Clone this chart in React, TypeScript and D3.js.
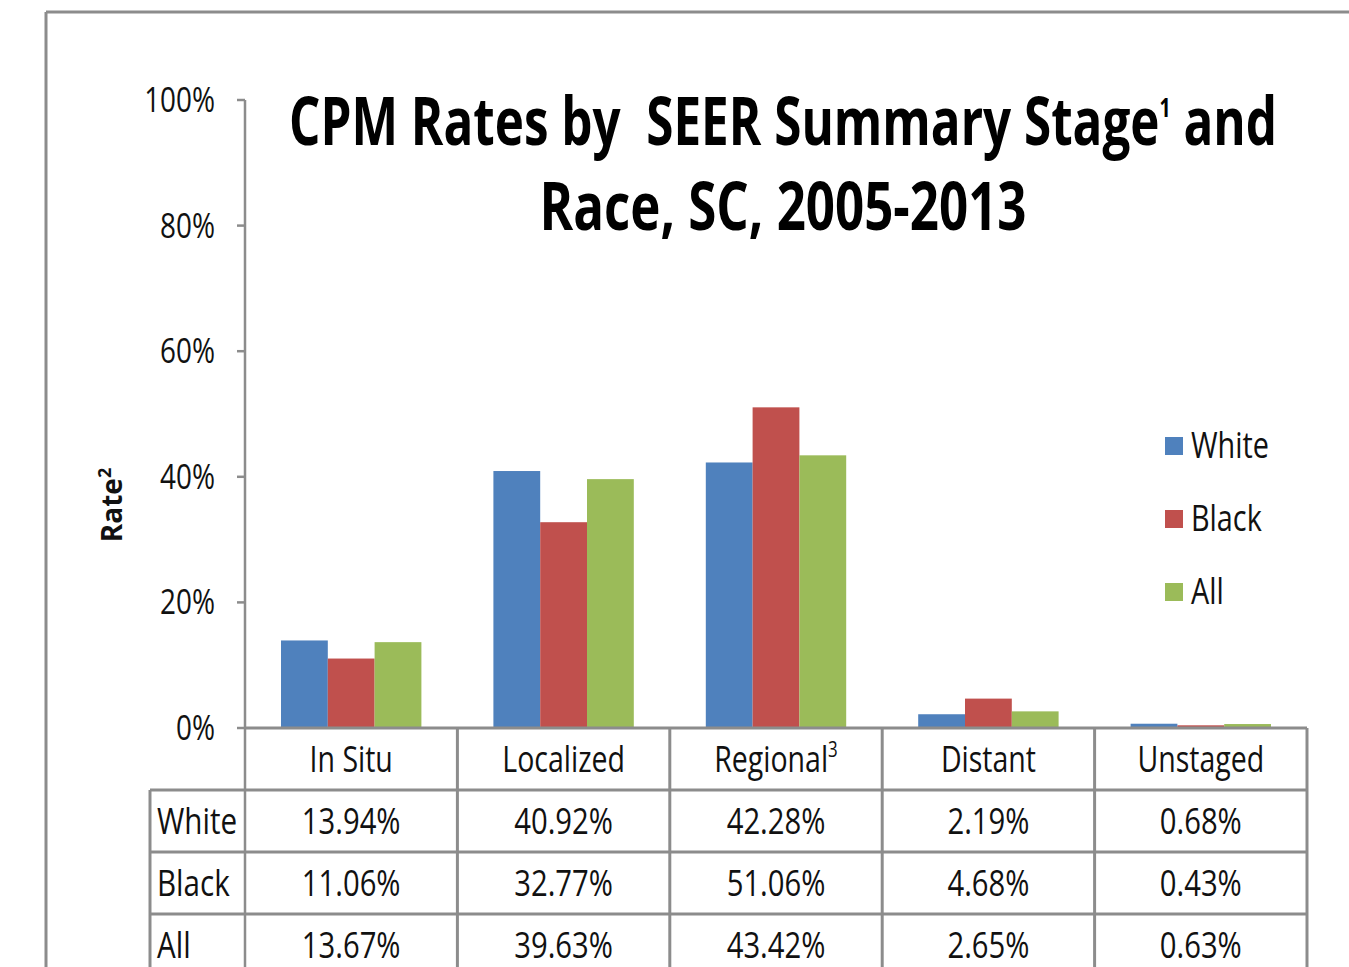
import React from 'react';
import * as d3 from 'd3';

const stages = ['In Situ', 'Localized', 'Regional', 'Distant', 'Unstaged'];
const stageNotes = ['', '', '3', '', ''];
const races = ['White', 'Black', 'All'];
const white = [13.94, 40.92, 42.28, 2.19, 0.68];
const black = [11.06, 32.77, 51.06, 4.68, 0.43];
const all = [13.67, 39.63, 43.42, 2.65, 0.63];
const yTicks = [0, 20, 40, 60, 80, 100];
const colors = ['#4F81BD', '#C0504D', '#9BBB59'];

const series = [white, black, all];
const FONT = "'Open Sans', 'Noto Sans', sans-serif";
const GRID = '#8c8c8c';

function T({ x, y, size, sx = 0.77, anchor = 'middle', weight = 400, children }: any) {
  return (
    <text
      transform={`translate(${x},${y}) scale(${sx},1)`}
      textAnchor={anchor}
      fontSize={size}
      fontWeight={weight}
      fontFamily={FONT}
      fill="#111"
    >
      {children}
    </text>
  );
}

export default function App() {
  const width = 1349;
  const height = 967;

  const y = d3.scaleLinear().domain([0, 100]).range([728, 100]);
  const x = d3.scaleBand().domain(stages).range([245, 1307]).padding(0);
  const xInner = d3
    .scaleBand()
    .domain(races)
    .range([36, x.bandwidth() - 36]);
  const rowY = d3.scaleBand().domain(['head', ...races]).range([728, 976]);

  const fmt = (v: number) => `${v.toFixed(2)}%`;

  return (
    <svg
      width={width}
      height={height}
      style={{ position: 'absolute', left: 0, top: 0, background: '#fff' }}
    >
      {/* outer frame */}
      <line x1={46} y1={12} x2={46} y2={height} stroke={GRID} strokeWidth={3} />
      <line x1={46} y1={12} x2={width} y2={12} stroke={GRID} strokeWidth={3} />

      {/* title */}
      <text x={783} y={145} textAnchor="middle" fontFamily={FONT} fontWeight={700} fontSize={66}
        textLength={988} lengthAdjust="spacingAndGlyphs" fill="#000" xmlSpace="preserve">
        CPM Rates by{'\u00A0 '}SEER Summary Stage<tspan fontSize={26} dy={-28}>1</tspan>
        <tspan dy={28}> and</tspan>
      </text>
      <text x={783} y={230} textAnchor="middle" fontFamily={FONT} fontWeight={700} fontSize={66}
        textLength={487} lengthAdjust="spacingAndGlyphs" fill="#000">
        Race, SC, 2005-2013
      </text>

      {/* y axis */}
      <line x1={245} y1={y(100)} x2={245} y2={height} stroke={GRID} strokeWidth={2.5} />
      {yTicks.map(t => (
        <g key={t}>
          <line x1={237} x2={245} y1={y(t)} y2={y(t)} stroke={GRID} strokeWidth={2.5} />
          <T x={215} y={y(t) + 12} size={34} anchor="end" sx={0.82}>{`${t}%`}</T>
        </g>
      ))}
      <text
        transform="translate(122,505) rotate(-90)"
        textAnchor="middle"
        fontFamily={FONT}
        fontWeight={700}
        fontSize={28}
        fill="#111"
      >
        Rate<tspan fontSize={18} dy={-11}>2</tspan>
      </text>

      {/* bars */}
      {stages.map((s, i) => (
        <g key={s} transform={`translate(${x(s)},0)`}>
          {races.map((r, j) => (
            <rect
              key={r}
              x={xInner(r)}
              y={y(series[j][i])}
              width={xInner.bandwidth()}
              height={y(0) - y(series[j][i])}
              fill={colors[j]}
            />
          ))}
        </g>
      ))}

      {/* legend */}
      {races.map((r, j) => (
        <g key={r} transform={`translate(1165,${437 + j * 73})`}>
          <rect width={18} height={18} fill={colors[j]} />
          <T x={26} y={21} size={36} anchor="start" sx={0.8}>{r}</T>
        </g>
      ))}

      {/* data table */}
      <g stroke={GRID} strokeWidth={3} fill="none">
        <line x1={245} x2={1307} y1={rowY('head')} y2={rowY('head')} />
        {races.map(r => (
          <line key={r} x1={150} x2={1307} y1={rowY(r)} y2={rowY(r)} />
        ))}
        <line x1={150} x2={150} y1={rowY('White')} y2={height} />
        {stages.map(s => (
          <line key={s} x1={(x(s) as number) + x.bandwidth()} x2={(x(s) as number) + x.bandwidth()} y1={728} y2={height} />
        ))}
      </g>
      {stages.map((s, i) => (
        <T key={s} x={(x(s) as number) + x.bandwidth() / 2} y={(rowY('head') as number) + 44} size={37}>
          {s}
          {stageNotes[i] && <tspan fontSize={22} dy={-15}>{stageNotes[i]}</tspan>}
        </T>
      ))}
      {races.map((r, j) => (
        <g key={r}>
          <T x={157} y={(rowY(r) as number) + 44} size={37} anchor="start" sx={0.8}>{r}</T>
          {stages.map((s, i) => (
            <T key={s} x={(x(s) as number) + x.bandwidth() / 2} y={(rowY(r) as number) + 44} size={37} sx={0.79}>
              {fmt(series[j][i])}
            </T>
          ))}
        </g>
      ))}
    </svg>
  );
}
